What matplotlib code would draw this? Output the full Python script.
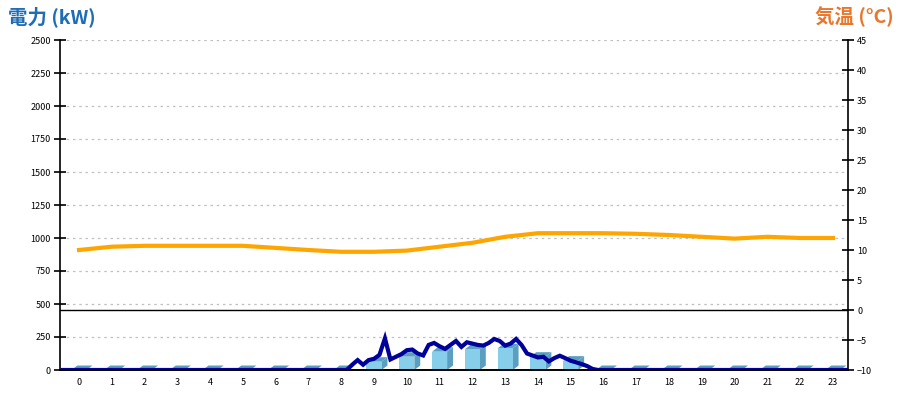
import matplotlib
matplotlib.use("Agg")
import matplotlib.pyplot as plt
from matplotlib.patches import Polygon
import numpy as np

plt.rcParams['font.family'] = ['Noto Sans CJK JP', 'DejaVu Sans']

# ── Data ────────────────────────────────────────────────────
HOURS = list(range(24))
HOURLY_KW = [0, 0, 0, 0, 0, 0, 0, 0, 0, 63, 101, 139, 157, 164, 101, 71,
             0, 0, 0, 0, 0, 0, 0, 0]
TEMP_C = [10.0, 10.55, 10.7, 10.7, 10.7, 10.7, 10.35, 10.0, 9.7, 9.7, 9.9, 10.55,
          11.2, 12.2, 12.8, 12.8, 12.8, 12.7, 12.5, 12.2, 11.9, 12.2, 12.0, 12.0]
# 10-minute demand, 00:00 .. 24:00
POWER_KW = ([0] * 53 +
            [40, 75, 40, 75, 85, 115, 240, 80, 100, 120, 150, 155, 125, 110, 190,
             205, 180, 160, 190, 220, 175, 210, 200, 190, 185, 205, 235, 220, 185, 200,
             235, 190, 125, 110, 95, 100, 65, 90, 108, 90, 70, 58, 45, 30, 8] +
            [0] * 47)
POWER_T = np.arange(len(POWER_KW)) / 6.0

# ── Style ───────────────────────────────────────────────────
FRONT = "#87CEEB"
SIDE = "#5A9FBF"
TOP = "#5B9EC0"
NAVY = "#00009A"
ORANGE = "#FFA500"
GRID = "#C0C0C0"
BLUE_T = "#1E6DB5"
ORANGE_T = "#E8762B"

fig = plt.figure(figsize=(9, 4), dpi=100)
ax = fig.add_axes([60 / 900, 30 / 400, 788 / 900, 330 / 400])
ax2 = ax.twinx()

xs = np.array(HOURS) + 0.5
BAR_W = 0.46
DX, DY = 0.18, 34

# 3D bars: side + top faces, then front
for x, v in zip(xs, HOURLY_KW):
    x0, x1 = x - BAR_W / 2, x + BAR_W / 2
    ax.add_patch(Polygon([(x1, 0), (x1 + DX, DY), (x1 + DX, v + DY), (x1, v)],
                         fc=SIDE, ec="none", zorder=2))
    ax.add_patch(Polygon([(x0, v), (x1, v), (x1 + DX, v + DY), (x0 + DX, v + DY)],
                         fc=TOP, ec="none", zorder=2))
ax.bar(xs, HOURLY_KW, width=BAR_W, color=FRONT, zorder=2)

ax.plot(POWER_T, POWER_KW, color=NAVY, lw=3, zorder=4, solid_joinstyle="miter")

ax.set_xlim(-0.08, 23.96)
ax.set_ylim(0, 2500)
ax.set_yticks(np.arange(0, 2501, 250))
ax.yaxis.grid(True, color=GRID, linestyle=(0, (2, 3)), lw=0.9)
ax.set_axisbelow(True)
ax.set_xticks(xs)
ax.set_xticklabels([str(h) for h in HOURS])
ax.tick_params(axis="x", length=0, pad=6, labelsize=6.5)
ax.tick_params(axis="y", direction="inout", length=9, width=1.2, pad=2, labelsize=6.5)

ax2.plot(xs, TEMP_C, color=ORANGE, lw=3, zorder=3)
ax2.axhline(0, color="black", lw=1, zorder=3)
ax2.set_ylim(-10, 45)
ax2.set_yticks(np.arange(-10, 46, 5))
ax2.tick_params(axis="y", direction="inout", length=9, width=1.2, pad=2, labelsize=6.5)

for a in (ax, ax2):
    a.spines["top"].set_visible(False)
    a.spines["bottom"].set_linewidth(1.2)
ax.spines["right"].set_visible(False)
ax.spines["left"].set_linewidth(1.2)
ax2.spines["right"].set_linewidth(1.2)
ax2.spines["left"].set_visible(False)

fig.text(8 / 900, 1 - 6 / 400, "電力 (kW)", color=BLUE_T, fontsize=14,
         fontweight="bold", ha="left", va="top")
fig.text(894 / 900, 1 - 6 / 400, "気温 (°C)", color=ORANGE_T, fontsize=14,
         fontweight="bold", ha="right", va="top")

fig.savefig("out.png", dpi=100, facecolor="white")
